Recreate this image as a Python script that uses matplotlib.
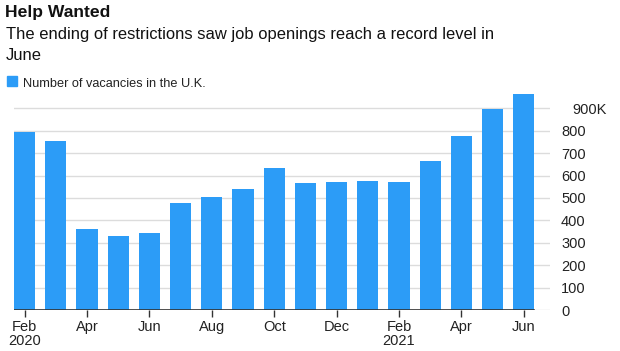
import matplotlib.pyplot as plt
import matplotlib.transforms as mtransforms
from matplotlib.patches import Rectangle

plt.rcParams['font.family'] = ['Liberation Sans', 'DejaVu Sans']

# vacancies per month, thousands (Feb 2020 .. Jun 2021)
months = ['Feb 2020', 'Mar 2020', 'Apr 2020', 'May 2020', 'Jun 2020', 'Jul 2020',
          'Aug 2020', 'Sep 2020', 'Oct 2020', 'Nov 2020', 'Dec 2020', 'Jan 2021',
          'Feb 2021', 'Mar 2021', 'Apr 2021', 'May 2021', 'Jun 2021']
vacancies = [796, 756, 363, 329, 342, 479, 503, 542, 634, 566, 571, 576,
             570, 664, 775, 897, 964]

tick_pos = [0, 2, 4, 6, 8, 10, 12, 14, 16]
tick_labels = ['Feb\n2020', 'Apr', 'Jun', 'Aug', 'Oct', 'Dec', 'Feb\n2021', 'Apr', 'Jun']
y_ticks = [0, 100, 200, 300, 400, 500, 600, 700, 800, 900]
y_labels = ['0', '100', '200', '300', '400', '500', '600', '700', '800', '900K']

blue = '#2C9CF7'
W, H = 620, 351

fig = plt.figure(figsize=(6.2, 3.51), dpi=100)
ax = fig.add_axes([14 / W, 1 - 310 / H, (550 - 14) / W, (310 - 90) / H])

x = list(range(len(vacancies)))
bw = 0.68
ax.bar(x, vacancies, width=bw, color=blue, zorder=3)

ax.set_xlim(-bw / 2, -bw / 2 + (550 - 14) / 31.2)
ax.set_ylim(0, 982)

ax.set_yticks(y_ticks)
ax.set_yticklabels(y_labels)
ax.yaxis.tick_right()
ax.grid(axis='y', color='#dcdcdc', linewidth=1, zorder=0)
ax.tick_params(axis='y', length=0, pad=8, labelsize=10.5, labelcolor='#222222')
for lab in ax.get_yticklabels():
    lab.set_horizontalalignment('left')
top = ax.get_yticklabels()[-1]
top.set_transform(top.get_transform() +
                  mtransforms.ScaledTranslation(11 / 100, 0, fig.dpi_scale_trans))

ax.set_xticks(tick_pos)
ax.set_xticklabels(tick_labels, linespacing=1.05)
ax.tick_params(axis='x', length=5, width=1, color='#333333', pad=2,
               labelsize=10.5, labelcolor='#222222')

for s in ax.spines.values():
    s.set_visible(False)
ax.axhline(0, xmin=0, xmax=(534 - 14) / (550 - 14), color='#333333', linewidth=1.2, zorder=4)

fig.text(5 / W, 1 - 17.5 / H, 'Help Wanted', fontsize=12.6, fontweight='bold',
         color='#111111', va='baseline')
fig.text(6 / W, 1 - 39 / H,
         'The ending of restrictions saw job openings reach a record level in',
         fontsize=11.9, color='#111111', va='baseline')
fig.text(6 / W, 1 - 60 / H, 'June', fontsize=11.9, color='#111111', va='baseline')

fig.patches.append(Rectangle((7 / W, 1 - 86 / H), 10 / W, 10 / H,
                             transform=fig.transFigure, color=blue))
fig.text(23 / W, 1 - 87 / H, 'Number of vacancies in the U.K.', fontsize=9.2,
         color='#222222', va='baseline')

fig.savefig('out.png', dpi=100)
